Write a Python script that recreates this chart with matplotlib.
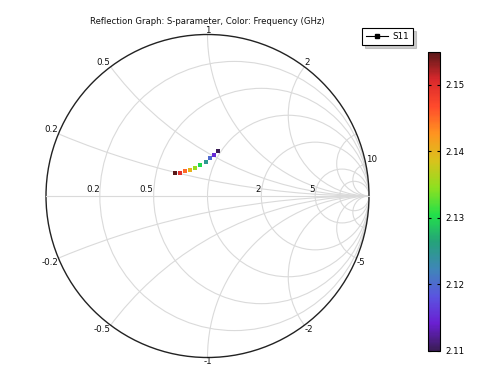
import numpy as np
import matplotlib
matplotlib.use("Agg")
from matplotlib import pyplot as plt
from matplotlib.patches import Circle
from matplotlib.lines import Line2D
from matplotlib.colors import LinearSegmentedColormap, Normalize
from matplotlib.cm import ScalarMappable

# S11 sweep (reflection coefficient)
freq_ghz = [2.110, 2.115, 2.120, 2.125, 2.130, 2.135, 2.140, 2.145, 2.150, 2.155]
s11_re = [0.067, 0.042, 0.015, -0.011, -0.046, -0.077, -0.108, -0.139, -0.170, -0.201]
s11_im = [0.280, 0.256, 0.233, 0.211, 0.190, 0.175, 0.161, 0.153, 0.144, 0.141]

# smith chart grid
r_grid = [0.2, 0.5, 1, 2, 5, 10]
x_grid = [0.2, 0.5, 1, 2, 5, 10]
r_labels = [0.2, 0.5, 2, 5]
x_labels_top = [0.2, 0.5, 1, 2, 10]
x_labels_bottom = [-0.2, -0.5, -1, -2, -5]

rainbow_colors = ["#3a1d55", "#6a1fd2", "#5a55e0", "#3f86b8", "#25a27a", "#22e04a",
                  "#8ee020", "#d9c21c", "#ff9420", "#ff4a2c", "#d8282c", "#571818"]
cmap = LinearSegmentedColormap.from_list("comsol_rainbow", rainbow_colors)
norm = Normalize(vmin=2.11, vmax=2.155)

W, H = 479, 366
cx, cy, R = 207.5, 196.0, 161.5

fig = plt.figure(figsize=(W / 100, H / 100), dpi=100)
ax = fig.add_axes([(cx - 1.1 * R) / W, (H - (cy + 1.05 * R)) / H, 2.2 * R / W, 2.15 * R / H])
ax.set_xlim(-1.1, 1.1)
ax.set_ylim(-1.05, 1.1)
ax.axis("off")

grid_col = "#dadada"
unit = Circle((0, 0), 1, transform=ax.transData, facecolor="none", edgecolor="none")
ax.add_patch(unit)

for r in r_grid:
    c = Circle((r / (1 + r), 0), 1 / (1 + r), fill=False, edgecolor=grid_col, lw=0.8)
    ax.add_patch(c)
    c.set_clip_path(unit)
for x in x_grid:
    for s in (1, -1):
        c = Circle((1, s / x), 1 / x, fill=False, edgecolor=grid_col, lw=0.8)
        ax.add_patch(c)
        c.set_clip_path(unit)
ax.plot([-1, 1], [0, 0], color=grid_col, lw=0.8)
ax.add_patch(Circle((0, 0), 1, fill=False, edgecolor="#222222", lw=1.0))

fs = 6.3
txt_col = "#111111"
for r in r_labels:
    ax.text((r - 1) / (r + 1), 0.012, f"{r:g}", ha="right", va="bottom", fontsize=fs, color=txt_col)

def gamma_of_x(x):
    g = (1j * x - 1) / (1j * x + 1)
    return g.real, g.imag

for x in x_labels_top + x_labels_bottom:
    gx, gy = gamma_of_x(x)
    ha = "center" if abs(gx) < 0.05 else ("left" if gx > 0 else "right")
    va = "bottom" if gy > 0 else "top"
    ax.text(gx, gy, f"{x:g}", ha=ha, va=va, fontsize=fs, color=txt_col)

ax.scatter(s11_re, s11_im, c=freq_ghz, cmap=cmap, norm=norm, marker="s", s=9, linewidths=0, zorder=5)

fig.text(cx / W, 1 - 22 / H, "Reflection Graph: S-parameter, Color: Frequency (GHz)",
         ha="center", va="center", fontsize=6.1, color=txt_col)

handle = Line2D([], [], color="black", lw=0.8, marker="s", markersize=3)
leg = fig.legend([handle], ["S11"], loc="upper left", bbox_to_anchor=(362 / W, 1 - 28 / H),
                 fontsize=fs, frameon=True, fancybox=False, shadow={"color": "#999999"},
                 handlelength=2.5, borderpad=0.45, handletextpad=0.5, borderaxespad=0)
leg.get_frame().set_edgecolor("black")
leg.get_frame().set_linewidth(0.8)

cax = fig.add_axes([428 / W, (H - 351) / H, 12 / W, 299.3 / H])
cb = fig.colorbar(ScalarMappable(norm=norm, cmap=cmap), cax=cax, ticks=[2.11, 2.12, 2.13, 2.14, 2.15])
cb.ax.tick_params(labelsize=fs, direction="in", length=2.5, width=0.8, left=True, right=True, pad=4)
cb.ax.set_yticklabels(["2.11", "2.12", "2.13", "2.14", "2.15"])
cb.outline.set_linewidth(0.8)

fig.savefig("out.png", dpi=100)
